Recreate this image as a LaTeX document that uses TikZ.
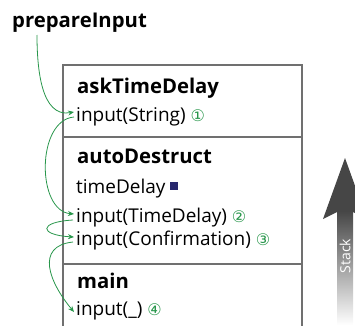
\documentclass[tikz,border=0pt]{standalone}
\usepackage{fontspec}
\setmainfont{Open Sans}
\newfontfamily\circfont{DejaVu Sans}
\usetikzlibrary{arrows.meta, positioning}
\definecolor{callgreen}{RGB}{40,150,75}
\definecolor{framegray}{RGB}{112,112,112}
\definecolor{stackgray}{RGB}{70,70,70}
\definecolor{varnavy}{RGB}{40,40,110}
\newcommand{\callno}[1]{\textcolor{callgreen}{\circfont\fontsize{16}{16}\selectfont #1}}

\begin{document}
\begin{tikzpicture}[x=1pt, y=1pt]
	\tikzset {fname/.style={font=\bfseries\fontsize{20.3}{20.3}\selectfont, anchor=base west, inner sep=0pt},
		entry/.style={font=\fontsize{19}{19}\selectfont, anchor=base west, inner sep=0pt},
		callarr/.style={-{Stealth[length=6pt, width=5pt]}, draw=callgreen, line width=0.8pt} }

	\clip (0,0) rectangle (355,325);

	\draw[framegray, line width=1.3pt] (63,-2) -- (63,260) -- (302,260) -- (302,-2);
	\draw[framegray, line width=1.3pt] (63,188) -- (302,188);
	\draw[framegray, line width=1.3pt] (63,61) -- (302,61);

	\node[fname] (prep) at (12,298) {prepareInput};
	\node[fname] (askT) at (77,232) {askTimeDelay};
	\node[entry] (inStr) at (76,204) {input(String)~\callno{①}};
	\node[fname] (autoD) at (77,162) {autoDestruct};
	\node[entry] (tDel) at (76,132) {timeDelay~\textcolor{varnavy}{\raisebox{3pt}{\rule{8pt}{8pt}}}};
	\node[entry] (inTD) at (76,103) {input(TimeDelay)~\callno{②}};
	\node[entry] (inConf) at (76,80) {input(Confirmation)~\callno{③}};
	\node[fname] (mainF) at (77,37) {main};
	\node[entry] (inAny) at (76,10) {input(\_)~\callno{④}};

	\coordinate (prepOut) at (37,290);
	\draw[callarr] (prepOut) to[out=-90, in=190] ([xshift=-2pt, yshift=9pt]inStr.base west);
	\draw[callarr] ([xshift=-2pt, yshift=4pt]inStr.base west) to[out=185, in=175] ([xshift=-2pt, yshift=8pt]inTD.base west);
	\draw[callarr] ([xshift=-3pt, yshift=2pt]inTD.base west) .. controls +(-35,-2) and +(-35,2) .. ([xshift=-2pt, yshift=8pt]inConf.base west);
	\draw[callarr] ([xshift=-3pt, yshift=3pt]inConf.base west) .. controls +(-38,-4) and +(-25,30) .. ([xshift=-2pt, yshift=3pt]inAny.base west);

	\fill[stackgray] (345,167) -- (367,106) -- (353,113) -- (337,113) -- (323,106) -- cycle;
	\shade[top color=stackgray, middle color=stackgray, bottom color=white] (337,114) rectangle (353,0);
	\node[text=white, rotate=90, font=\fontsize{14}{14}\selectfont, inner sep=0pt] (stackLbl) at (345,69) {Stack};
\end{tikzpicture}
\end{document}
